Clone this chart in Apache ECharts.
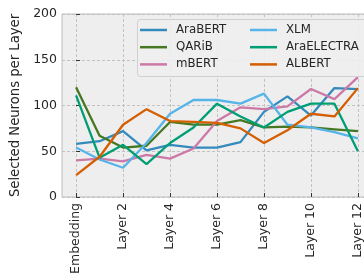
<!DOCTYPE html>
<html>
<head>
<meta charset="utf-8">
<script src="https://cdn.jsdelivr.net/npm/echarts@6/dist/echarts.min.js"></script>
<style>
  html, body { margin: 0; padding: 0; background: #fff; }
  #chart { width: 364px; height: 273px; }
</style>
</head>
<body>
<div id="chart"></div>
<script>
// layers on the x axis
var categories = ['Embedding', 'Layer 1', 'Layer 2', 'Layer 3', 'Layer 4', 'Layer 5', 'Layer 6',
                  'Layer 7', 'Layer 8', 'Layer 9', 'Layer 10', 'Layer 11', 'Layer 12'];
var xTickIdx = [0, 2, 4, 6, 8, 10, 12];
var yTicks = [0, 50, 100, 150, 200];

// selected neurons per layer
var araBERT    = [58, 61, 72, 51, 57, 54, 54, 60, 93, 110, 89, 119, 118];
var qarib      = [120, 67, 54, 56, 82, 79, 79, 84, 76, 77, 76, 74, 72];
var mBERT      = [40, 42, 39, 46, 42, 53, 83, 98, 96, 99, 118, 107, 131];
var xlm        = [54, 41, 32, 59, 91, 106, 106, 102, 113, 79, 76, 71, 64];
var araELECTRA = [111, 43, 57, 36, 59, 76, 102, 88, 76, 93, 102, 102, 50];
var albert     = [24, 44, 79, 96, 83, 82, 81, 75, 59, 73, 91, 88, 119];

var seriesNames  = ['AraBERT', 'QARiB', 'mBERT', 'XLM', 'AraELECTRA', 'ALBERT'];
var seriesValues = [araBERT, qarib, mBERT, xlm, araELECTRA, albert];
var colors = ['#348ABD', '#467821', '#CC79A7', '#56B4E9', '#009E73', '#D55E00'];

var chart = echarts.init(document.getElementById('chart'));

var series = [];
for (var s = 0; s < seriesNames.length; s++) {
    var pts = [];
    for (var i = 0; i < categories.length; i++) {
        pts.push([i, seriesValues[s][i]]);
    }
    series.push({
        name: seriesNames[s],
        type: 'line',
        data: pts,
        symbol: 'none',
        color: colors[s],
        lineStyle: { width: 2.3 },
        z: 2
    });
}

var legendText = { color: '#262626', fontSize: 11.8, fontFamily: 'DejaVu Sans',
                   lineHeight: 14, padding: [0, 0, 0, 4] };

function legendAt(x, names) {
    return {
        left: x, top: 23, orient: 'vertical', padding: 0,
        icon: 'rect', itemWidth: 27, itemHeight: 2.5, itemGap: 3.2, z: 5,
        data: names,
        textStyle: legendText
    };
}

var option = {
    animation: false,
    textStyle: { fontFamily: 'DejaVu Sans' },
    grid: {
        left: 62, top: 14, bottom: 76, right: -8,
        show: true,
        backgroundColor: '#eeeeee',
        borderColor: '#bcbcbc',
        borderWidth: 1,
        outerBoundsMode: 'none',
        containLabel: false
    },
    graphic: [{
        type: 'rect',
        z: 3,
        shape: { x: 137.5, y: 19.5, width: 240, height: 57, r: 3 },
        style: { fill: 'rgba(238,238,238,0.9)', stroke: '#d0d0d0', lineWidth: 1 }
    }],
    legend: [legendAt(140, seriesNames.slice(0, 3)), legendAt(250, seriesNames.slice(3))],
    xAxis: {
        type: 'value',
        min: -0.6,
        max: 12.6,
        splitNumber: 6,
        axisLine: { show: false },
        axisTick: { show: true, inside: true, length: 4, customValues: xTickIdx,
                    lineStyle: { color: '#333', width: 1 } },
        axisLabel: {
            customValues: xTickIdx,
            rotate: 90,
            margin: 6,
            fontSize: 12.5,
            color: '#262626',
            formatter: function (v) { return categories[Math.round(v)]; }
        },
        splitLine: { show: true, lineStyle: { color: '#c2c2c2', width: 1, type: [3, 2] } }
    },
    yAxis: {
        type: 'value',
        min: 0,
        max: 200,
        interval: 50,
        name: 'Selected Neurons per Layer',
        nameLocation: 'middle',
        nameGap: 35,
        nameTextStyle: { fontSize: 13.2, color: '#262626' },
        axisLine: { show: false },
        axisTick: { show: true, inside: true, length: 4, customValues: yTicks,
                    lineStyle: { color: '#333', width: 1 } },
        axisLabel: { fontSize: 12.5, color: '#262626', margin: 5 },
        splitLine: { show: true, lineStyle: { color: '#c2c2c2', width: 1, type: [3, 2] } }
    },
    series: series
};

chart.setOption(option);
</script>
</body>
</html>
